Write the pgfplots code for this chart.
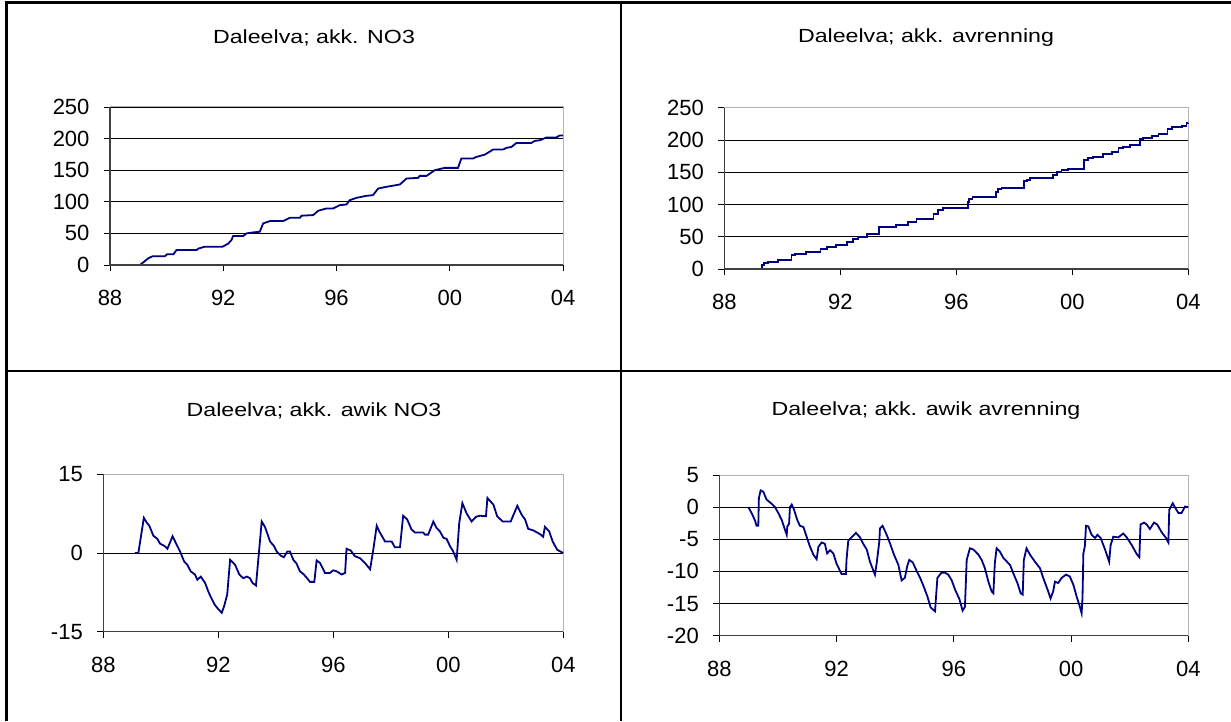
\documentclass[border=0pt]{standalone}
\usepackage{fontspec}
\setmainfont{Liberation Sans}
\newfontfamily\ttl[FakeStretch=1.22]{Liberation Sans}
\usepackage{pgfplots}
\pgfplotsset{compat=1.18}
\definecolor{navy}{RGB}{0,0,128}
\pgfplotsset{panel/.style={
  scale only axis, anchor=south west, clip=false,
  xmin=88, xmax=104, xtick={88,92,96,100,104}, xticklabels={88,92,96,00,04},
  tick align=outside, xtick pos=left, ytick pos=left,
  major tick length=6pt,
  tick style={black, line width=0.8pt},
  axis line style={gray!60, line width=1pt},
  ymajorgrids, grid style={black, line width=0.9pt},
  ticklabel style={font=\fontsize{22}{25}\selectfont},
  xticklabel style={yshift=-16pt},
  yticklabel style={xshift=-11pt},
},
ser/.style={navy, line width=1.8pt, no markers}}
\newcommand{\frameLB}{\draw[black!75, line width=1.5pt] (rel axis cs:0,1) -- (rel axis cs:0,0) -- (rel axis cs:1,0);}
\begin{document}
\begin{tikzpicture}
\path[use as bounding box] (0,0) rectangle (1231pt,721pt);
% borders
\draw[black, line width=2.5pt] (6.5pt,0pt) -- (6.5pt,718.5pt) -- (1231pt,718.5pt);
\draw[black, line width=2.5pt] (621pt,0pt) -- (621pt,718.5pt);
\draw[black, line width=2.5pt] (6.5pt,350pt) -- (1231pt,350pt);
% titles
\node[font=\ttl\fontsize{19}{22}\selectfont] at (314pt,683pt) {Daleelva; akk. NO3};
\node[font=\ttl\fontsize{19}{22}\selectfont] at (926pt,683pt) {Daleelva; akk. avrenning};
\node[font=\ttl\fontsize{19}{22}\selectfont] at (314pt,310pt) {Daleelva; akk. awik NO3};
\node[font=\ttl\fontsize{19}{22}\selectfont] at (926pt,310pt) {Daleelva; akk. awik avrenning};

% Panel 1
\begin{axis}[panel, at={(110pt,456pt)}, width=453pt, height=158pt,
  ymin=0, ymax=250, ytick={0,50,100,150,200,250}, yticklabels={0,50,100,150,200,250}]
\addplot[ser] table {
x y
89.06 0
89.35 10.5
89.51 14
89.94 14
90.02 17
90.24 17
90.35 23.7
91.06 23.7
91.12 26
91.35 29
91.98 29
92.18 34
92.29 39.5
92.35 46
92.71 46
92.82 50
93.06 51.6
93.29 52.6
93.41 65.8
93.65 69.5
94.12 69.5
94.35 74.7
94.71 74.7
94.76 78
95.18 79
95.35 85.8
95.65 89.5
95.88 89.5
96.12 94.7
96.35 95.8
96.47 102.6
96.71 106.3
97.06 109.5
97.29 110.5
97.47 121
97.76 123.7
98.24 127.4
98.47 136.8
98.88 137.9
98.94 141
99.18 141
99.47 150
99.82 153.7
100.29 153.7
100.41 168.4
100.82 168.4
100.94 171
101.24 174.7
101.53 182.6
101.88 182.6
102.00 185.3
102.18 186.8
102.35 193
102.88 193
103.00 196.3
103.18 197.4
103.41 201.6
103.76 201.6
103.88 205
104.00 205
};
\frameLB
\end{axis}

% Panel 2
\begin{axis}[panel, at={(724.3pt,452pt)}, width=464pt, height=161.3pt,
  ymin=0, ymax=250, ytick={0,50,100,150,200,250}, yticklabels={0,50,100,150,200,250}]
\addplot[ser, const plot mark left] table {
x y
89.03 0
89.29 6.2
89.37 8.8
89.52 11.4
89.86 14.0
90.32 21.7
90.44 22.7
90.82 25.8
91.32 31.0
91.53 34.0
91.85 37.2
92.24 42.4
92.45 46.5
92.62 49.6
92.91 53.7
93.34 65.0
93.92 68.2
94.34 73.3
94.63 77.5
95.21 84.7
95.38 90.9
95.55 94.0
96.41 103.3
96.45 108.5
96.56 111.6
97.37 119.8
97.45 123.5
97.56 126.0
98.33 136.4
98.43 137.9
98.54 140.5
99.34 145.7
99.46 149.8
99.63 153.4
99.86 155.0
100.40 168.9
100.55 172.5
100.72 174.0
101.07 177.7
101.36 181.8
101.59 187.0
101.76 189.6
101.99 192.1
102.33 200.9
102.45 203.5
102.74 206.6
102.97 209.2
103.28 216.4
103.45 220.0
103.77 222.0
103.94 225.7
104.00 226.0
};
\frameLB
\end{axis}

% Panel 3
\begin{axis}[panel, at={(103.3pt,89.3pt)}, width=460pt, height=157.4pt,
  ymin=-15, ymax=15, ytick={-15,0,15}, yticklabels={-15,0,15}]
\addplot[ser] table {
x y
89.10 0
89.22 0
89.41 6.7
89.51 5.8
89.60 5.2
89.74 3.3
89.88 2.7
89.97 1.8
90.14 1.3
90.23 0.8
90.41 3.2
90.55 1.6
90.67 0.3
90.81 -1.6
90.92 -2.2
91.04 -3.5
91.19 -4.1
91.27 -5.1
91.39 -4.5
91.54 -5.7
91.65 -7.3
91.73 -8.3
91.88 -9.9
92.00 -10.7
92.12 -11.4
92.20 -10.2
92.31 -7.9
92.41 -1.3
92.58 -2.2
92.73 -4.1
92.87 -4.8
92.99 -4.5
93.10 -4.8
93.19 -5.7
93.31 -6.2
93.51 6.0
93.62 5.0
93.68 4.1
93.80 2.2
93.94 1.3
94.03 0.3
94.17 -0.5
94.28 -0.8
94.40 0.3
94.49 0.3
94.61 -1.3
94.72 -2.0
94.84 -3.5
94.98 -4.1
95.19 -5.5
95.34 -5.5
95.42 -1.4
95.54 -1.9
95.71 -3.8
95.88 -3.8
96.00 -3.3
96.12 -3.5
96.29 -4.1
96.41 -3.8
96.46 0.8
96.60 0.5
96.75 -0.6
96.93 -1.0
97.10 -1.9
97.28 -3.1
97.39 0.6
97.51 5.2
97.60 4.1
97.80 2.2
98.03 2.2
98.14 1.1
98.32 1.1
98.43 7.1
98.57 6.4
98.72 4.5
98.84 3.9
99.13 3.9
99.19 3.5
99.30 3.5
99.48 6.0
99.59 4.8
99.71 4.1
99.83 2.9
99.94 2.7
100.06 1.3
100.17 0.3
100.29 -1.3
100.38 5.7
100.49 9.5
100.64 7.5
100.81 6.0
100.96 6.9
101.10 7.1
101.31 7.0
101.36 10.5
101.57 9.2
101.70 7.0
101.89 6.0
102.17 6.0
102.40 9.0
102.55 7.3
102.67 6.4
102.78 4.6
102.96 4.3
103.19 3.6
103.30 3.1
103.36 5.0
103.51 4.1
103.63 2.2
103.79 0.6
104.00 0
};
\frameLB
\end{axis}

% Panel 4
\begin{axis}[panel, at={(719.3pt,85.3pt)}, width=469pt, height=160.7pt,
  ymin=-20, ymax=5, ytick={-20,-15,-10,-5,0,5}, yticklabels={-20,-15,-10,-5,0,5}]
\addplot[ser] table {
x y
88.99 0
89.10 -0.9
89.22 -2.1
89.27 -2.9
89.33 -2.9
89.35 1.4
89.41 2.6
89.50 2.4
89.61 1.2
89.79 0.5
89.90 0
90.01 -0.9
90.13 -2.0
90.24 -3.5
90.30 -4.3
90.32 -3.0
90.38 -2.6
90.41 0
90.47 0.4
90.55 -0.4
90.66 -2.0
90.75 -2.9
90.87 -3.1
90.98 -4.6
91.09 -6.1
91.21 -7.4
91.32 -8.1
91.38 -6.2
91.49 -5.5
91.60 -5.7
91.68 -7.2
91.78 -6.7
91.89 -7.2
92.00 -8.8
92.17 -10.4
92.32 -10.4
92.34 -8.2
92.40 -5.2
92.51 -4.7
92.66 -4.0
92.80 -4.7
92.91 -5.7
93.03 -6.6
93.14 -8.5
93.31 -10.5
93.37 -8.7
93.46 -5.3
93.48 -3.3
93.57 -2.9
93.71 -4.3
93.82 -5.6
93.96 -7.4
94.11 -9.0
94.22 -11.4
94.33 -11.0
94.41 -9.2
94.48 -8.2
94.60 -8.6
94.73 -9.9
94.85 -11.0
94.96 -12.2
95.10 -13.9
95.21 -15.6
95.36 -16.2
95.39 -14.2
95.44 -11.0
95.58 -10.2
95.70 -10.2
95.81 -10.5
95.93 -11.4
96.04 -12.8
96.19 -14.3
96.30 -16.1
96.38 -15.5
96.44 -8.2
96.55 -6.4
96.67 -6.6
96.84 -7.4
96.95 -8.2
97.06 -9.5
97.18 -11.6
97.29 -13.1
97.35 -13.4
97.40 -8.7
97.46 -6.4
97.57 -6.9
97.69 -7.9
97.92 -9.0
98.03 -10.3
98.17 -11.8
98.28 -13.4
98.35 -13.6
98.39 -8.2
98.48 -6.4
98.60 -7.4
98.77 -8.5
98.94 -9.5
99.05 -11.0
99.22 -13.1
99.30 -14.2
99.39 -13.1
99.45 -11.6
99.56 -11.8
99.68 -11.0
99.83 -10.5
99.96 -10.8
100.08 -12.1
100.19 -13.9
100.30 -15.5
100.36 -16.5
100.39 -14.2
100.42 -7.2
100.47 -6.1
100.51 -2.9
100.59 -3.0
100.70 -4.3
100.82 -4.8
100.90 -4.3
101.01 -4.8
101.16 -6.6
101.30 -8.5
101.35 -5.9
101.44 -4.6
101.61 -4.7
101.78 -4.1
101.90 -4.7
102.07 -5.9
102.24 -7.3
102.33 -7.8
102.37 -2.7
102.49 -2.4
102.58 -2.7
102.69 -3.4
102.83 -2.4
102.94 -2.7
103.09 -3.9
103.24 -4.8
103.32 -5.5
103.35 -0.4
103.47 0.6
103.54 0
103.66 -0.9
103.77 -0.9
103.89 0.1
104.00 0
};
\frameLB
\end{axis}
\end{tikzpicture}
\end{document}
